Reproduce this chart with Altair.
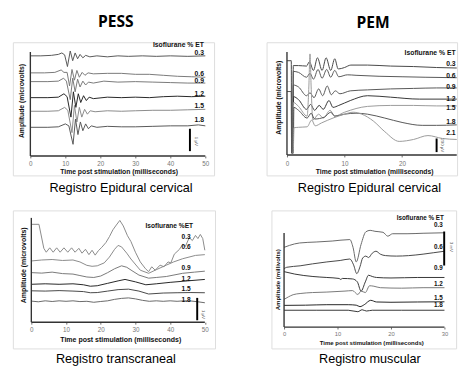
import altair as alt
import pandas as pd

# ---------------- PESS : Registro Epidural cervical ----------------
PESS_LEVELS = ["0.3", "0.6", "0.9", "1.2", "1.5", "1.8"]
PESS_COLORS = ["#555555", "#777777", "#777777", "#222222", "#888888", "#555555"]
PESS_03 = [(0,103),(3,103),(6,103.5),(8,104.5),(9,106),(9.8,104),(10.6,92),(11.4,108),(12.1,98),(12.8,106),(13.5,100),(14.2,104.5),(15,101),(15.8,103.5),(17,102),(19,103),(22,102),(25,103),(28,102.5),(32,103),(36,102.5),(40,103),(45,102.5),(50,103)]
PESS_06 = [(0,85.5),(4,85.5),(7,86),(8.8,88.5),(9.6,86),(10.5,86),(11.2,72),(11.9,89),(12.6,78),(13.3,88),(14,81),(14.8,86),(15.6,83),(16.5,85.5),(18,84.5),(22,85),(26,85),(30,84),(34,84),(38,83),(42,82),(46,81.5),(50,81)]
PESS_09 = [(0,76.5),(5,76.5),(8,77),(9.5,80),(10.3,77),(11.4,58),(12.1,80),(12.8,66),(13.5,79),(14.2,71),(15,77),(15.8,73),(16.6,76),(18,75),(21,77),(25,76),(30,76.5),(35,76),(40,75.5),(45,75),(50,75)]
PESS_12 = [(0,60),(5,60),(8,60.5),(9.6,64),(10.5,61),(11.6,40),(12.3,66),(13,50),(13.7,64),(14.4,55),(15.2,62),(16,57),(16.8,60.5),(18,59),(22,60.5),(26,60),(30,60.5),(34,60),(38,61),(42,61.5),(46,61),(50,61.5)]
PESS_15 = [(0,46),(5,46),(8,46.5),(9.8,50),(10.7,47),(11.9,24),(12.6,52),(13.3,35),(14,50),(14.7,40),(15.5,48),(16.3,43),(17.1,46.5),(18.5,45.5),(22,46.5),(26,46),(30,46.5),(35,47),(40,47),(45,47.5),(50,48)]
PESS_18 = [(0,29.5),(5,29.5),(8,30),(10,33),(11,31),(12.2,12),(12.9,38),(13.6,22),(14.3,35),(15,26),(15.8,33),(16.6,28),(17.4,31),(19,29.5),(22,30.5),(26,30),(30,30),(35,30.5),(40,31),(45,31),(48,32),(50,31)]
PESS_LABEL_Y = [105.7, 84.7, 77, 63.7, 51.3, 37.3]

# ---------------- PEM : Registro Epidural cervical ----------------
PEM_LEVELS = ["0.3", "0.6", "0.9", "1.2", "1.5", "1.8", "2.1"]
PEM_COLORS = ["#444444", "#555555", "#555555", "#333333", "#999999", "#555555", "#999999"]
PEM_03 = [(0,97),(0.75,97),(0.8,2),(1.0,2),(1.1,92),(2,92),(3.4,91.5),(3.9,96),(4.6,87),(5.3,100),(6.1,87),(6.8,100),(7.6,87),(8.3,99),(8.9,88.5),(10,90),(11.1,92.5),(14,92.5),(18,91.5),(22,91),(26,90),(29.5,89.5)]
PEM_06 = [(0.85,2),(1.0,2),(1.1,86),(2,85),(3.4,80),(4.0,84),(4.6,78),(5.4,88),(6.1,79),(6.9,88),(7.6,80),(8.3,87),(9.0,80.5),(10.5,82.5),(12,82),(16,81),(20,80.5),(24,80),(29.5,79.5)]
PEM_09 = [(0,65.3),(0.75,65.3),(0.8,2),(1.0,2),(1.1,72),(2,70),(3.4,61),(4.0,64),(4.7,59),(5.5,68),(6.2,61),(7.0,71),(7.7,62),(8.4,66),(9.2,63),(11,66),(14,67),(18,68),(22,68.5),(26,69),(29.5,69)]
PEM_12 = [(0.9,2),(1.05,2),(1.15,60),(2,57),(3.4,47),(4.1,52),(4.8,46),(5.6,51),(6.3,47),(7.3,56),(8.0,49),(9,51),(11,56),(14,61),(18,59.5),(23,57.5),(29.5,57.5)]
PEM_15 = [(0.9,2),(1.05,2),(1.15,54),(2,50),(3.5,40),(3.8,70),(4.0,104),(4.2,70),(4.5,36),(5.5,42),(6.3,38),(7.5,46),(8.3,40),(10,44),(14,50),(18,51),(22,51),(26,50.5),(29.5,50.5)]
PEM_18 = [(0.95,2),(1.1,2),(1.2,49),(2,46),(3.5,38),(4.2,43),(4.8,37),(6.5,39),(7.6,44),(8.3,40),(10,42),(12,43),(14,42),(17,38),(20,33.5),(23.5,30.5),(26,30.5),(29.5,31)]
PEM_21 = [(0.95,2),(1.1,2),(1.2,28),(2,28.5),(3.5,29),(4.3,36),(4.9,30),(6,33),(8,38),(10,42),(11.5,44),(13,42),(15,35),(17,24),(19.5,14),(22,16),(24.5,20),(27,17),(29.5,16)]
PEM_LABEL_Y = [93.7, 81, 70.3, 57.7, 48, 34.3, 22.7]

# ---------------- Registro transcraneal ----------------
TC_LEVELS = ["0.3", "0.6", "0.9", "1.2", "1.5", "1.8"]
TC_COLORS = ["#888888", "#888888", "#777777", "#222222", "#444444", "#666666"]
TC_03 = [(0,100.7),(2.2,100.7),(3.6,76),(4.3,72),(5.3,76.5),(6.3,72),(7.3,76.5),(8.3,72),(9.4,76.5),(10.5,72),(11.6,76.5),(12.6,72),(13.7,76),(14.6,71),(15.6,75),(16.6,69.5),(17.5,74),(18.4,69),(19.3,73.5),(20.3,77),(21.5,82),(22.5,88),(23.5,95),(24.5,100),(25.5,104.7),(26.5,99),(27.7,89),(28.7,83),(30,72),(31.4,62),(32.9,55),(33.8,52),(34.7,57),(35.7,53.5),(37.1,58.7),(38.2,57),(39.4,62),(40.2,61),(41.2,70),(42.7,75),(43.6,80),(44.4,78),(45.5,87),(46.4,84),(47.3,89.3),(48,86),(48.7,90.3),(49.4,86),(50,74)]
TC_06 = [(0,63),(3,64),(6,64.5),(9,63.5),(12,64),(14,62),(16,58.5),(17.5,57.5),(19,58),(21,61),(22.5,67),(24,75),(25,79),(26,77.5),(27.5,71),(28.7,65),(31.4,53.5),(33.8,50.3),(36,54),(38.9,58.7),(41,62),(43.6,65.3),(47.3,68.7),(50,69.5)]
TC_09 = [(0,51),(3,50.5),(6,51.5),(9,50),(12,49.5),(14,48),(16,46.5),(18,46),(20,47.5),(22,51),(24,55),(26,58),(27.5,56.5),(29,53),(31,48.5),(33.8,45.3),(36,46),(38.9,47),(43.6,50.3),(47,51.5),(50,52.5)]
TC_12 = [(0,39),(4,39.5),(8,39),(12,39.5),(15,38.5),(17,37),(19,37.5),(22,40),(25,42.5),(27,44),(30,41.5),(33,38.5),(36,39.5),(40,41),(45,42.5),(50,44)]
TC_15 = [(0,32.3),(4,32),(8,32.5),(12,32),(15,31.5),(17,30.3),(19,30.5),(22,32),(25,33.5),(28,34),(31,32),(33.8,29),(38,30),(42,30.3),(46,30.5),(50,30.3)]
TC_18 = [(0,21.7),(2,21),(4,22),(6,21.3),(8,22),(10,21.5),(12,22),(14,21.2),(16,21.5),(18,20.5),(20,21.3),(22,22),(24,23.5),(26,24.5),(28,25),(30,24),(32,22.5),(34,21.5),(36,22),(38,21.5),(40,22),(42,21.5),(44,22),(46,21.8),(48,21),(50,20)]
TC_LABEL_Y = [88, 77.7, 55.3, 44.3, 33.7, 22.7]

# ---------------- Registro muscular ----------------
MU_LEVELS = ["0.3", "0.6", "0.9", "1.2", "1.5", "1.8"]
MU_COLORS = ["#666666", "#444444", "#333333", "#777777", "#222222", "#333333"]
MU_03 = [(0,82),(1,84),(2.9,86.5),(6,87.5),(9,88.5),(12.3,90),(12.9,82),(13.5,67),(14.4,85),(15.3,98),(16.1,99.5),(17,98.5),(18.5,97.5),(19.4,93.5),(20.3,96),(23,96),(26,96.5),(30,97)]
MU_06 = [(0,60),(0.5,61.5),(3,63),(5.3,65),(8,67),(10.5,68.5),(12.3,70),(13,64),(13.6,55),(14.2,62),(14.7,71),(15.3,73),(15.8,71.5),(16.5,76),(17.2,78),(18,75),(19,73.5),(21,73),(23.3,73.5),(26,75),(28,76.5),(30,78)]
MU_09 = [(0,57),(2,54.5),(5.4,52),(8,51),(10.3,50),(10.6,49),(10.9,50),(12.8,49.5),(13.7,46.5),(14.4,37),(15.2,46.5),(15.8,53.3),(16.5,52),(17.3,51),(20,50.5),(25,51),(30,51)]
MU_12 = [(0,28.5),(0.8,31),(1.7,33.3),(3,34.5),(5.3,35.5),(8,36),(11.4,37),(12.8,37.5),(13.8,33.5),(14.4,37),(15.2,35.5),(16,42.5),(16.8,42),(18,40.5),(22,40),(26,40.5),(30,40.5)]
MU_15 = [(0,22.3),(4,22.5),(8,23),(12,23),(13.5,22.5),(14.2,21),(15,23),(16.2,27.5),(17.3,25.8),(20,25.5),(25,25.8),(30,26)]
MU_18 = [(0,17.3),(6,17.3),(12,17.3),(13.8,15.8),(14.6,17.8),(15.4,16.5),(16.5,17.3),(22,17.3),(30,17.3)]
MU_LABEL_Y = [104.5, 82, 60.3, 44.5, 29.5, 22.3]


def traces_df(levels, series):
    rows = []
    for lev, pts in zip(levels, series):
        for i, (x, y) in enumerate(pts):
            rows.append({"trace": lev, "i": i, "x": x, "y": y})
    return pd.DataFrame(rows)


def panel(c):
    xs = alt.Scale(domain=c["xdom"], nice=False, zero=False)
    ys = alt.Scale(domain=c["ydom"], nice=False, zero=False)
    df = traces_df(c["levels"], c["series"])
    lines = alt.Chart(df).mark_line(strokeWidth=1, interpolate=c["interp"]).encode(
        x=alt.X("x:Q", scale=xs, axis=alt.Axis(
            title=c["xtitle"], values=c["xticks"], offset=c["xoff"], domain=False, grid=False,
            ticks=True, tickSize=2, tickColor="#444", tickWidth=0.8,
            labelFontSize=c["lfs"], labelColor="#777", labelPadding=c["lpad"], labelFont="Liberation Sans",
            labelFlush=False, labelOverlap=False, format="d",
            titleFontSize=c["tfs"], titleFontWeight="bold", titleColor="#111", titleFont="Liberation Sans",
            titleX=c["xtx"], titleY=c["xty"], titleBaseline="middle", titleAlign="center")),
        y=alt.Y("y:Q", scale=ys, axis=alt.Axis(
            title=c["ytitle"], offset=c["yoff"], labels=False, ticks=False, domain=False, grid=False,
            titleFontSize=c["tfs"], titleFontWeight="bold", titleColor="#111", titleFont="Liberation Sans",
            titleX=c["ytx"], titleY=c["yty"], titleAngle=270, titleBaseline="middle", titleAlign="center")),
        color=alt.Color("trace:N", scale=alt.Scale(domain=c["levels"], range=c["colors"]), legend=None),
        order="i:Q",
    )
    X = alt.X("x:Q", scale=xs)
    Y = alt.Y("y:Q", scale=ys)
    xaxis = alt.Chart(pd.DataFrame({"x": [c["xrange"][0]], "x2": [c["xrange"][1]], "y": [0]})).mark_rule(
        color="#333", strokeWidth=1.4).encode(x=X, x2="x2:Q", y=Y)
    yaxis = alt.Chart(pd.DataFrame({"x": [0], "y": [0], "y2": [c["ytop"]]})).mark_rule(
        color="#333", strokeWidth=1.4).encode(x=X, y=Y, y2="y2:Q")
    bar = alt.Chart(pd.DataFrame({"x": [c["bar"][0]], "y": [c["bar"][1]], "y2": [c["bar"][2]]})).mark_rule(
        color="#000", strokeWidth=2).encode(x=X, y=Y, y2="y2:Q")
    bartxt = alt.Chart(pd.DataFrame({"x": [c["bartxt"][0]], "y": [c["bartxt"][1]], "t": [c["bartxt"][2]]})).mark_text(
        angle=90, fontSize=4.5, color="#555", font="Liberation Sans").encode(x=X, y=Y, text="t:N")
    lab = alt.Chart(pd.DataFrame({"x": [c["labx"]] * len(c["levels"]), "y": c["laby"], "t": c["levels"]})).mark_text(
        align=c["labalign"], baseline="middle", fontSize=c["nfs"], fontWeight="bold", color="#111",
        font="Liberation Sans").encode(x=X, y=Y, text="t:N")
    iso = alt.Chart(pd.DataFrame({"x": [c["iso"][0]], "y": [c["iso"][1]], "t": [c["iso"][2]]})).mark_text(
        align=c["isoalign"], baseline="middle", fontSize=c["nfs"], fontWeight="bold", color="#111",
        font="Liberation Sans").encode(x=X, y=Y, text="t:N")
    return alt.layer(lines, xaxis, yaxis, bar, bartxt, lab, iso).properties(
        width=c["w"], height=c["h"],
        title=alt.TitleParams(c["caption"], orient="bottom", anchor="middle", fontSize=13,
                              font="Liberation Sans", fontWeight="normal", color="#000",
                              offset=c["capoff"], dx=c["capdx"]),
    )


p1 = panel(dict(
    levels=PESS_LEVELS, colors=PESS_COLORS,
    series=[PESS_03, PESS_06, PESS_09, PESS_12, PESS_15, PESS_18], interp="linear",
    xdom=[-5, 52.5], ydom=[-20, 117], w=207, h=137,
    xtitle="Time post stimulation (milliseconds)", ytitle="Amplitude (microvolts)",
    xticks=[0, 10, 20, 30, 40, 50], xoff=-20, yoff=-18, lfs=6.5, lpad=3, tfs=7,
    xtx=108.8, xty=16, ytx=-9, yty=60,
    xrange=[0, 50], ytop=107, bar=[45.6, 5, 28], bartxt=[47.2, 15, "1 µV"],
    labx=49.6, laby=PESS_LABEL_Y, labalign="right", nfs=7,
    iso=[49.6, 114.3, "Isoflurane % ET"], isoalign="right",
    caption="Registro Epidural cervical", capoff=7, capdx=7.8))

p2 = panel(dict(
    levels=PEM_LEVELS, colors=PEM_COLORS,
    series=[PEM_03, PEM_06, PEM_09, PEM_12, PEM_15, PEM_18, PEM_21], interp="monotone",
    xdom=[-3.547, 29.56], ydom=[-21, 116], w=196, h=137,
    xtitle="Time post stimulation (milliseconds)", ytitle="Amplitude (microvolts)",
    xticks=[0, 5, 10, 15, 20, 25], xoff=-21, yoff=-21, lfs=6.5, lpad=3.5, tfs=7,
    xtx=110.7, xty=17.3, ytx=-9, yty=56.5,
    xrange=[0, 29.5], ytop=106, bar=[26, 3, 17], bartxt=[26.9, 10, "200 µV"],
    labx=29.3, laby=PEM_LABEL_Y, labalign="right", nfs=7,
    iso=[29.3, 105, "Isoflurane % ET"], isoalign="right",
    caption="Registro Epidural cervical", capoff=7, capdx=7.8))

p3 = panel(dict(
    levels=TC_LEVELS, colors=TC_COLORS,
    series=[TC_03, TC_06, TC_09, TC_12, TC_15, TC_18], interp="linear",
    xdom=[-5.322, 52.94], ydom=[-27, 115], w=208, h=142,
    xtitle="Time post stimulation (milliseconds)", ytitle="Amplitude (microvolts)",
    xticks=[0, 10, 20, 30, 40, 50], xoff=-27, yoff=-19, lfs=6.5, lpad=3, tfs=7.2,
    xtx=110.5, xty=18, ytx=-8.3, yty=56,
    xrange=[0, 50], ytop=107.3, bar=[47.8, 2, 25], bartxt=[49.4, 8, "1 µV"],
    labx=44.6, laby=TC_LABEL_Y, labalign="center", nfs=6.8,
    iso=[32.9, 98.5, "Isoflurane %ET"], isoalign="left",
    caption="Registro transcraneal", capoff=5, capdx=2))

p4 = panel(dict(
    levels=MU_LEVELS, colors=MU_COLORS,
    series=[MU_03, MU_06, MU_09, MU_12, MU_15, MU_18], interp="monotone",
    xdom=[-2.364, 32.18], ydom=[-22, 120], w=190, h=142,
    xtitle="Time post stimulation (milliseconds)", ytitle="Amplitude (millivolts)",
    xticks=[0, 5, 10, 15, 20, 25, 30], xoff=-22, yoff=-13, lfs=6, lpad=1.5, tfs=6.2,
    xtx=102.7, xty=16.3, ytx=-6.7, yty=70.8,
    xrange=[0, 30], ytop=96.7, bar=[29.95, 63.3, 98.3], bartxt=[31.3, 82.5, "3 mV"],
    labx=29.7, laby=MU_LABEL_Y, labalign="right", nfs=6.5,
    iso=[29.9, 112, "Isoflurane % ET"], isoalign="right",
    caption="Registro muscular", capoff=5, capdx=6.3))

RES = dict(x="independent", y="independent", color="independent")

c1 = alt.vconcat(p1, title=alt.TitleParams("PESS", anchor="middle", font="Open Sans", fontSize=16,
                                            fontWeight="bold", color="#000", offset=11, dx=2.3)).resolve_scale(**RES)
c2 = alt.vconcat(p2, title=alt.TitleParams("PEM", anchor="middle", font="Open Sans", fontSize=16,
                                            fontWeight="bold", color="#000", offset=11, dx=10.8)).resolve_scale(**RES)

top_row = alt.hconcat(c1, c2, spacing=52).resolve_scale(**RES)
bottom_row = alt.hconcat(p3, p4, spacing=56).resolve_scale(**RES)

chart = alt.vconcat(top_row, bottom_row, spacing=14).resolve_scale(**RES).properties(
    padding={"left": 4, "top": 1, "right": 0, "bottom": 0}
).configure_view(stroke="#444", strokeWidth=1).configure(font="Liberation Sans", background="white")

chart.save("out.html", embed_options={"renderer": "svg", "actions": False})
